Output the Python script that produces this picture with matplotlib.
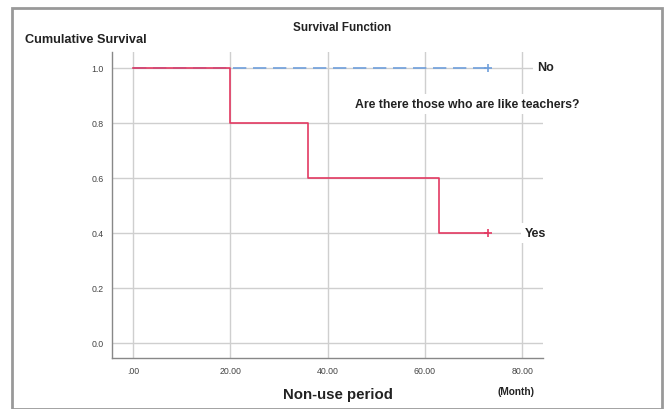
import matplotlib
matplotlib.use("Agg")
import matplotlib.pyplot as plt
from matplotlib.patches import Rectangle

# Data
yes_times = [0, 20, 36, 63, 73]
yes_surv = [1.0, 0.8, 0.6, 0.4, 0.4]
no_times = [0, 73]
no_surv = [1.0, 1.0]
censor_yes = (73, 0.4)
censor_no = (73, 1.0)
xticks = [0, 20, 40, 60, 80]
xticklabels = [".00", "20.00", "40.00", "60.00", "80.00"]
yticks = [0.0, 0.2, 0.4, 0.6, 0.8, 1.0]

FONT = ["Liberation Sans Narrow", "Liberation Sans", "DejaVu Sans"]
plt.rcParams["font.family"] = FONT

W, H = 667, 410
fig = plt.figure(figsize=(W / 100, H / 100), dpi=100)
ax = fig.add_axes([112 / W, 1 - 359 / H, (543 - 112) / W, (359 - 53) / H])

grid_c = "#cfcfcf"
ax.set_xlim(-4.3, 84.3)
ax.set_ylim(-0.055, 1.058)
for x in xticks:
    ax.axvline(x, color=grid_c, lw=1, zorder=1)
for y in yticks:
    ax.axhline(y, color=grid_c, lw=1, zorder=1)

blue = "#6f9fdc"
red = "#e33a62"
ax.step(no_times, no_surv, where="post", color=blue, lw=1.2, dashes=(8, 4), zorder=3)
ax.plot(*censor_no, marker="+", color=blue, ms=6, mew=1.2, zorder=4)
ax.step(yes_times, yes_surv, where="post", color=red, lw=1.2, zorder=3)
ax.plot(*censor_yes, marker="+", color=red, ms=6, mew=1.2, zorder=4)

ax.set_xticks(xticks)
ax.set_xticklabels(xticklabels)
ax.set_yticks(yticks)
ax.set_yticklabels([f"{v:.1f}" for v in yticks])
ax.tick_params(length=0, labelsize=6.3, colors="#444444", pad=6)
for s in ["top", "right"]:
    ax.spines[s].set_visible(False)
for s in ["left", "bottom"]:
    ax.spines[s].set_color("#888888")
    ax.spines[s].set_linewidth(1)

tc = "#222222"
bbox = dict(facecolor="white", edgecolor="none", pad=3)
fig.text(537 / W, 1 - 68 / H, "No", fontsize=9, fontweight="bold", color=tc, va="center", ha="left", bbox=bbox)
fig.text(355 / W, 1 - 105 / H, "Are there those who are like teachers?", fontsize=8.8, color=tc,
         fontweight="bold", va="center", ha="left", bbox=bbox)
fig.text(525 / W, 1 - 234 / H, "Yes", fontsize=9, fontweight="bold", color=tc, va="center", ha="left", bbox=bbox)
fig.text(293 / W, 1 - 28 / H, "Survival Function", fontsize=8.4, fontweight="bold", color=tc, va="center", ha="left")
fig.text(25 / W, 1 - 40 / H, "Cumulative Survival", fontsize=9.2, fontweight="bold", color=tc, va="center", ha="left")
fig.text(283 / W, 1 - 395 / H, "Non-use period", fontsize=10.8, fontweight="bold", color=tc, va="center", ha="left")
fig.text(497 / W, 1 - 392 / H, "(Month)", fontsize=7.3, fontweight="bold", color=tc, va="center", ha="left")

# outer frame
fig.patches.append(Rectangle((12 / W, 0), (662 - 12) / W, 1 - 9 / H, transform=fig.transFigure,
                             fill=False, edgecolor="#999999", lw=2))

fig.savefig("out.png", dpi=100)
